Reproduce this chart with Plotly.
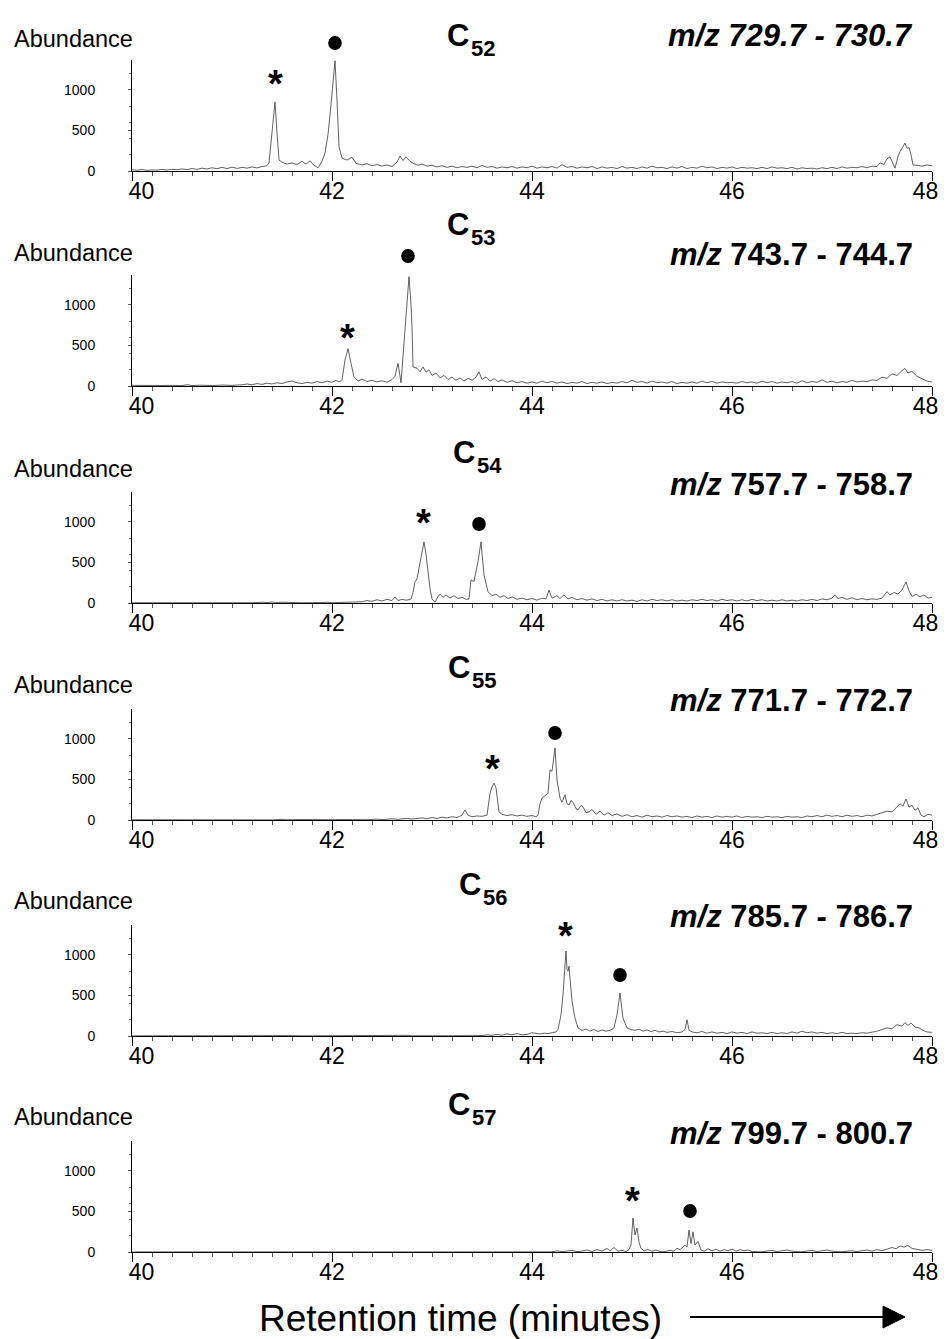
import plotly.graph_objects as go

# ---------------- data (retention time in minutes, abundance) ----------------
c52 = [(40.00,15),(40.05,10),(40.10,18),(40.15,8),(40.20,14),(40.25,10),(40.30,20),(40.35,12),(40.40,22),(40.45,15),
       (40.50,25),(40.55,18),(40.60,30),(40.65,20),(40.70,35),(40.75,25),(40.80,40),(40.85,28),(40.90,45),(40.95,30),
       (41.00,48),(41.05,32),(41.10,45),(41.15,35),(41.20,50),(41.25,38),(41.30,55),(41.35,65),(41.37,100),(41.40,470),
       (41.43,850),(41.45,470),(41.47,135),(41.50,110),(41.55,85),(41.60,100),(41.65,80),(41.70,120),(41.74,85),(41.78,125),
       (41.82,70),(41.86,40),(41.90,120),(41.93,220),(41.96,450),(41.98,690),(42.01,1080),(42.03,1360),(42.05,875),(42.07,300),
       (42.10,160),(42.15,135),(42.20,170),(42.24,95),(42.30,75),(42.35,90),(42.40,65),(42.45,80),(42.50,60),(42.55,75),
       (42.60,55),(42.65,110),(42.68,185),(42.71,130),(42.74,175),(42.78,120),(42.82,90),(42.86,70),(42.90,85),(42.95,60),
       (43.00,70),(43.05,50),(43.10,65),(43.15,45),(43.20,60),(43.25,40),(43.30,55),(43.35,45),(43.40,60),(43.45,40),
       (43.50,70),(43.55,45),(43.60,55),(43.65,35),(43.70,50),(43.75,40),(43.80,55),(43.85,35),(43.90,50),(43.95,40),
       (44.00,60),(44.05,35),(44.10,50),(44.15,40),(44.20,55),(44.25,35),(44.30,80),(44.35,45),(44.40,55),(44.45,35),
       (44.50,50),(44.55,40),(44.60,55),(44.65,30),(44.70,50),(44.75,35),(44.80,45),(44.85,30),(44.90,55),(44.95,35),
       (45.00,45),(45.05,30),(45.10,50),(45.15,35),(45.20,60),(45.25,40),(45.30,45),(45.35,30),(45.40,50),(45.45,35),
       (45.50,55),(45.55,30),(45.60,45),(45.65,35),(45.70,60),(45.75,40),(45.80,50),(45.85,30),(45.90,45),(45.95,35),
       (46.00,50),(46.05,30),(46.10,45),(46.15,35),(46.20,40),(46.25,30),(46.30,45),(46.35,30),(46.40,50),(46.45,35),
       (46.50,40),(46.55,30),(46.60,45),(46.65,25),(46.70,40),(46.75,30),(46.80,35),(46.85,25),(46.90,40),(46.95,30),
       (47.00,45),(47.05,30),(47.10,50),(47.15,35),(47.20,45),(47.25,40),(47.30,55),(47.35,40),(47.40,60),(47.45,55),
       (47.48,100),(47.52,80),(47.55,150),(47.58,175),(47.61,90),(47.63,35),(47.66,180),(47.68,240),(47.71,300),(47.73,345),
       (47.75,280),(47.77,290),(47.79,200),(47.81,75),(47.85,70),(47.90,60),(47.95,75),(48.00,65)]

c53 = [(40.00,8),(40.10,5),(40.20,10),(40.30,6),(40.40,8),(40.50,5),(40.55,15),(40.60,6),(40.70,10),(40.80,5),
       (40.90,12),(41.00,8),(41.10,15),(41.15,25),(41.20,15),(41.25,30),(41.30,20),(41.35,35),(41.40,25),(41.45,40),
       (41.50,30),(41.55,50),(41.60,60),(41.65,40),(41.70,30),(41.75,45),(41.80,35),(41.85,55),(41.90,40),(41.95,60),
       (42.00,45),(42.04,70),(42.07,50),(42.10,75),(42.13,320),(42.16,460),(42.19,280),(42.22,110),(42.26,60),(42.30,85),
       (42.35,55),(42.40,70),(42.45,50),(42.50,65),(42.55,45),(42.60,80),(42.63,120),(42.66,280),(42.69,40),(42.73,730),
       (42.75,1060),(42.77,1350),(42.79,1000),(42.80,730),(42.81,235),(42.85,220),(42.88,175),(42.91,235),(42.94,170),(42.97,200),
       (43.00,130),(43.04,160),(43.08,100),(43.12,130),(43.16,80),(43.20,110),(43.24,70),(43.28,100),(43.32,60),(43.36,95),
       (43.40,70),(43.44,110),(43.47,175),(43.50,80),(43.54,110),(43.58,60),(43.62,90),(43.66,55),(43.70,75),(43.75,45),
       (43.80,65),(43.85,40),(43.90,55),(43.95,35),(44.00,50),(44.05,35),(44.10,60),(44.15,40),(44.20,55),(44.25,35),
       (44.30,50),(44.35,30),(44.40,45),(44.45,35),(44.50,55),(44.55,30),(44.60,45),(44.65,35),(44.70,50),(44.75,30),
       (44.80,45),(44.85,35),(44.90,55),(44.95,40),(45.00,70),(45.05,45),(45.10,55),(45.15,35),(45.20,60),(45.25,40),
       (45.30,50),(45.35,35),(45.40,55),(45.45,30),(45.50,45),(45.55,35),(45.60,50),(45.65,35),(45.70,60),(45.75,40),
       (45.80,55),(45.85,35),(45.90,50),(45.95,40),(46.00,45),(46.05,35),(46.10,55),(46.15,40),(46.20,50),(46.25,35),
       (46.30,60),(46.35,40),(46.40,55),(46.45,35),(46.50,50),(46.55,40),(46.60,55),(46.65,35),(46.70,65),(46.75,40),
       (46.80,55),(46.85,45),(46.90,75),(46.95,45),(47.00,60),(47.05,40),(47.10,55),(47.15,45),(47.20,70),(47.25,50),
       (47.30,60),(47.35,55),(47.40,75),(47.45,70),(47.50,110),(47.55,95),(47.60,150),(47.65,130),(47.70,190),(47.73,215),
       (47.76,160),(47.80,180),(47.85,120),(47.90,90),(47.95,60),(48.00,50)]

c54 = [(40.00,3),(40.20,2),(40.25,8),(40.30,2),(40.50,3),(40.55,8),(40.60,2),(40.80,3),(41.00,2),(41.20,3),
       (41.30,10),(41.35,5),(41.40,12),(41.45,6),(41.50,10),(41.60,5),(41.70,3),(41.90,5),(41.95,10),(42.00,4),
       (42.10,8),(42.15,15),(42.20,10),(42.25,20),(42.30,15),(42.35,30),(42.40,20),(42.45,40),(42.50,25),(42.55,45),
       (42.60,30),(42.63,75),(42.66,30),(42.70,45),(42.74,35),(42.77,40),(42.79,50),(42.81,130),(42.83,260),(42.85,300),
       (42.87,430),(42.90,620),(42.92,755),(42.94,600),(42.96,385),(42.98,180),(43.00,50),(43.03,10),(43.06,80),(43.08,110),
       (43.11,70),(43.14,100),(43.18,60),(43.22,90),(43.26,55),(43.30,70),(43.34,45),(43.37,50),(43.39,285),(43.42,265),
       (43.46,510),(43.49,755),(43.52,345),(43.56,140),(43.60,90),(43.64,110),(43.68,70),(43.72,90),(43.76,55),(43.80,75),
       (43.85,45),(43.90,60),(43.95,40),(44.00,55),(44.05,35),(44.10,60),(44.14,50),(44.17,160),(44.20,60),(44.25,90),
       (44.28,55),(44.32,100),(44.36,50),(44.40,70),(44.45,40),(44.50,55),(44.55,35),(44.60,50),(44.65,30),(44.70,45),
       (44.75,25),(44.80,40),(44.85,25),(44.90,40),(44.95,25),(45.00,35),(45.05,20),(45.10,40),(45.15,25),(45.20,45),
       (45.25,30),(45.30,40),(45.35,25),(45.40,40),(45.45,25),(45.50,35),(45.55,25),(45.60,40),(45.65,30),(45.70,45),
       (45.75,30),(45.80,40),(45.85,25),(45.90,45),(45.95,30),(46.00,40),(46.05,25),(46.10,40),(46.15,25),(46.20,45),
       (46.25,30),(46.30,40),(46.35,25),(46.40,35),(46.45,25),(46.50,40),(46.55,25),(46.60,35),(46.65,25),(46.70,40),
       (46.75,30),(46.80,45),(46.85,30),(46.90,50),(46.95,40),(47.00,60),(47.03,100),(47.06,55),(47.10,70),(47.15,45),
       (47.20,65),(47.25,40),(47.30,55),(47.35,40),(47.40,50),(47.45,45),(47.50,60),(47.55,140),(47.58,100),(47.62,130),
       (47.66,110),(47.70,160),(47.74,260),(47.77,150),(47.80,80),(47.84,110),(47.88,75),(47.92,100),(47.96,60),(48.00,70)]

c55 = [(40.00,3),(40.30,2),(40.40,5),(40.50,2),(40.80,3),(40.90,6),(41.00,2),(41.20,4),(41.40,2),(41.50,8),
       (41.55,3),(41.70,6),(41.80,3),(41.90,8),(42.00,4),(42.10,6),(42.20,3),(42.30,8),(42.35,4),(42.45,10),
       (42.50,5),(42.60,15),(42.65,8),(42.75,20),(42.80,12),(42.90,25),(42.95,15),(43.00,30),(43.05,20),(43.10,35),
       (43.15,25),(43.20,40),(43.25,30),(43.30,60),(43.33,125),(43.36,60),(43.40,40),(43.45,50),(43.50,45),(43.55,60),
       (43.58,330),(43.60,410),(43.62,455),(43.64,395),(43.67,100),(43.70,70),(43.75,55),(43.80,65),(43.85,50),(43.90,60),
       (43.95,45),(44.00,55),(44.04,40),(44.06,60),(44.08,200),(44.10,270),(44.13,300),(44.16,330),(44.18,620),(44.20,600),
       (44.23,890),(44.25,495),(44.28,270),(44.30,220),(44.33,310),(44.35,200),(44.37,185),(44.39,240),(44.41,220),(44.44,140),
       (44.46,125),(44.49,180),(44.51,160),(44.54,90),(44.57,100),(44.60,130),(44.64,70),(44.68,110),(44.72,60),(44.76,90),
       (44.80,55),(44.85,75),(44.90,45),(44.95,65),(45.00,40),(45.05,55),(45.10,35),(45.15,60),(45.20,40),(45.25,50),
       (45.30,35),(45.35,55),(45.40,40),(45.45,50),(45.50,35),(45.55,45),(45.60,30),(45.65,50),(45.70,35),(45.75,45),
       (45.80,30),(45.85,50),(45.90,35),(45.95,45),(46.00,35),(46.05,50),(46.10,30),(46.15,45),(46.20,35),(46.25,40),
       (46.30,30),(46.35,45),(46.40,35),(46.45,40),(46.50,30),(46.55,45),(46.60,35),(46.65,40),(46.70,30),(46.75,50),
       (46.80,40),(46.85,55),(46.90,40),(46.95,60),(47.00,45),(47.05,55),(47.10,40),(47.15,60),(47.20,45),(47.25,55),
       (47.30,40),(47.35,60),(47.40,50),(47.45,70),(47.50,90),(47.55,110),(47.60,100),(47.64,150),(47.68,200),(47.71,170),
       (47.74,260),(47.77,160),(47.80,180),(47.83,120),(47.86,150),(47.89,60),(47.92,40),(47.96,70),(48.00,60)]

c56 = [(40.00,2),(40.30,4),(40.40,2),(40.60,5),(40.70,2),(41.00,4),(41.10,2),(41.20,6),(41.30,2),(41.60,5),
       (41.70,2),(41.90,4),(42.00,2),(42.30,3),(42.40,6),(42.50,2),(42.70,4),(42.75,8),(42.80,3),(43.00,5),
       (43.05,10),(43.10,3),(43.50,5),(43.55,15),(43.60,8),(43.65,20),(43.70,10),(43.75,25),(43.80,15),(43.85,30),
       (43.90,15),(43.95,20),(44.00,40),(44.04,30),(44.08,25),(44.12,35),(44.16,30),(44.20,40),(44.24,50),(44.26,80),
       (44.29,260),(44.31,510),(44.33,800),(44.34,1050),(44.35,820),(44.36,800),(44.37,860),(44.39,600),(44.40,430),(44.43,220),
       (44.46,100),(44.50,70),(44.54,85),(44.58,60),(44.62,80),(44.66,55),(44.70,75),(44.74,60),(44.78,70),(44.82,100),
       (44.85,260),(44.88,530),(44.91,220),(44.95,100),(44.99,80),(45.03,70),(45.07,85),(45.11,60),(45.15,75),(45.19,55),
       (45.23,70),(45.27,50),(45.31,60),(45.35,45),(45.40,55),(45.45,40),(45.50,50),(45.53,80),(45.55,200),(45.57,70),
       (45.60,50),(45.65,40),(45.70,55),(45.75,35),(45.80,50),(45.85,35),(45.90,45),(45.95,30),(46.00,50),(46.05,35),
       (46.10,45),(46.15,30),(46.20,50),(46.25,35),(46.30,40),(46.35,30),(46.40,45),(46.45,30),(46.50,40),(46.55,30),
       (46.60,50),(46.65,35),(46.70,60),(46.75,40),(46.80,50),(46.85,35),(46.90,45),(46.95,30),(47.00,40),(47.05,30),
       (47.10,45),(47.15,30),(47.20,35),(47.25,30),(47.30,40),(47.35,35),(47.40,45),(47.45,60),(47.50,80),(47.55,100),
       (47.60,90),(47.65,140),(47.70,120),(47.73,165),(47.76,130),(47.79,160),(47.83,110),(47.87,100),(47.91,70),(47.95,50),
       (48.00,45)]

c57 = [(40.00,1),(40.50,2),(41.00,1),(41.50,2),(42.00,1),(42.50,2),(43.00,1),(43.50,2),(44.00,3),(44.20,2),
       (44.25,15),(44.30,3),(44.40,20),(44.45,5),(44.50,10),(44.55,25),(44.60,5),(44.65,30),(44.70,10),(44.75,45),
       (44.78,15),(44.82,55),(44.86,10),(44.90,20),(44.94,5),(44.97,30),(44.99,85),(45.01,420),(45.03,210),(45.05,295),
       (45.07,120),(45.09,45),(45.12,15),(45.16,30),(45.20,10),(45.24,25),(45.28,5),(45.32,3),(45.38,20),(45.42,10),
       (45.45,45),(45.48,30),(45.51,60),(45.53,85),(45.55,60),(45.57,270),(45.59,105),(45.61,250),(45.63,85),(45.66,130),
       (45.69,25),(45.72,10),(45.76,40),(45.80,15),(45.84,35),(45.88,10),(45.92,30),(45.96,15),(46.00,35),(46.04,10),
       (46.08,30),(46.12,15),(46.16,25),(46.20,5),(46.30,2),(46.40,20),(46.45,5),(46.55,25),(46.60,10),(46.70,3),
       (46.80,20),(46.85,5),(46.95,25),(47.00,10),(47.10,3),(47.20,15),(47.25,5),(47.35,25),(47.40,10),(47.45,30),
       (47.50,15),(47.55,40),(47.60,55),(47.64,40),(47.68,75),(47.72,60),(47.76,80),(47.80,45),(47.85,35),(47.90,20),
       (47.95,30),(48.00,20)]

traces = [c52, c53, c54, c55, c56, c57]
carbon_numbers = ["52", "53", "54", "55", "56", "57"]
mz_labels = ["m/z 729.7 - 730.7", "<i>m/z</i> 743.7 - 744.7", "<i>m/z</i> 757.7 - 758.7",
             "<i>m/z</i> 771.7 - 772.7", "<i>m/z</i> 785.7 - 786.7", "<i>m/z</i> 799.7 - 800.7"]
mz_style = ["italic", "normal", "normal", "normal", "normal", "normal"]
x_tickvals = [40, 42, 44, 46, 48]
x_ticktext = ["\u00a0\u00a0\u00a040", "42", "44", "46", "48\u00a0\u00a0"]
y_tickvals = [0, 500, 1000]
# retention times of the marked peaks (* and ●)
star_times = [41.43, 42.15, 42.91, 43.60, 44.33, 45.00]
dot_times = [42.03, 42.76, 43.47, 44.23, 44.88, 45.58]

# ---------------- layout geometry (target pixels) ----------------
W, H = 949, 1339
PAGE_OFF = 8          # the page body margin shifts the figure by 8 px
X0_PX, X1_PX = 132, 932
BASE_PX = [171, 386, 603, 820, 1036, 1252]
PANEL_H = 111
YMAX = 1370
star_px = [78, 332, 517, 763, 930, 1195]
dot_px = [43, 256, 524, 733, 975, 1211]
abund_px = [39, 253, 469, 685, 901, 1117]
carbon_px = [(445, 35), (445, 224), (451, 452), (446, 668), (457, 884), (446, 1104)]
mz_px = [35, 254, 484, 700, 916, 1133]

FONT = "Liberation Sans, Arial, Helvetica, sans-serif"

def px_x(px):
    return (px - PAGE_OFF) / W

def px_y(py):
    return 1 - (py - PAGE_OFF) / H

fig = go.Figure()
annotations = []
shapes = []
for i, data in enumerate(traces):
    n = i + 1
    xa = "x" if n == 1 else f"x{n}"
    ya = "y" if n == 1 else f"y{n}"
    t = [p[0] for p in data]
    a = [p[1] for p in data]
    fig.add_trace(go.Scatter(x=t, y=a, mode="lines", line=dict(color="#3a3a3a", width=0.8),
                             xaxis=xa, yaxis=ya, showlegend=False, hoverinfo="skip"))

    ydom = [px_y(BASE_PX[i]), px_y(BASE_PX[i] - PANEL_H)]
    fig.layout[f"xaxis{n if n > 1 else ''}"] = dict(
        domain=[px_x(X0_PX), px_x(X1_PX)], anchor=ya, range=[40, 48], automargin=False,
        tickvals=x_tickvals, ticktext=x_ticktext, ticks="outside", ticklen=9, tickwidth=1, tickcolor="black",
        showline=True, linecolor="black", linewidth=1, showgrid=False, zeroline=False,
        tickfont=dict(size=23, color="black", family=FONT), ticklabelstandoff=-10,
        minor=dict(dtick=0.2, ticks="outside", ticklen=4, tickcolor="#555", tickwidth=1, showgrid=False),
        fixedrange=True,
    )
    fig.layout[f"yaxis{n if n > 1 else ''}"] = dict(
        domain=ydom, anchor=xa, range=[0, YMAX], automargin=False,
        tickvals=y_tickvals, ticks="outside", ticklen=3, tickwidth=1, tickcolor="#555",
        showline=True, linecolor="black", linewidth=1, showgrid=False, zeroline=False,
        tickfont=dict(size=14, color="black", family=FONT), ticklabelstandoff=30,
        minor=dict(dtick=200, ticks="outside", ticklen=2, tickcolor="#777", tickwidth=1, showgrid=False),
        fixedrange=True,
    )
    # peak markers: asterisk and filled circle
    annotations.append(dict(text="*", xref=xa, yref="paper", x=star_times[i], y=px_y(star_px[i] + 6),
                            xanchor="center", yanchor="middle", showarrow=False,
                            font=dict(size=38, color="black", family=FONT, weight="bold")))
    shapes.append(dict(type="circle", xref=xa, yref="paper", x0=dot_times[i] - 0.068, x1=dot_times[i] + 0.068,
                       y0=px_y(dot_px[i] + 7), y1=px_y(dot_px[i] - 7),
                       fillcolor="black", line=dict(color="black", width=0)))

    annotations.append(dict(text="Abundance", xref="paper", yref="paper", x=px_x(12), y=px_y(abund_px[i]),
                            xanchor="left", yanchor="middle", showarrow=False,
                            font=dict(size=23.5, color="black", family=FONT)))
    cx, cy = carbon_px[i]
    annotations.append(dict(text="C", xref="paper", yref="paper",
                            x=px_x(cx), y=px_y(cy), xanchor="left", yanchor="middle", showarrow=False,
                            font=dict(size=31, color="black", family=FONT, weight="bold")))
    annotations.append(dict(text=carbon_numbers[i], xref="paper", yref="paper",
                            x=px_x(cx + 24), y=px_y(cy + 13), xanchor="left", yanchor="middle", showarrow=False,
                            font=dict(size=22, color="black", family=FONT, weight="bold")))
    annotations.append(dict(text=mz_labels[i], xref="paper", yref="paper", x=px_x(915), y=px_y(mz_px[i]),
                            xanchor="right", yanchor="middle", showarrow=False,
                            font=dict(size=31, color="black", family=FONT, weight="bold", style=mz_style[i])))

annotations.append(dict(text="Retention time (minutes)", xref="paper", yref="paper",
                        x=px_x(460), y=px_y(1318), xanchor="center", yanchor="middle", showarrow=False,
                        font=dict(size=37, color="black", family=FONT)))

shapes += [
    dict(type="line", xref="paper", yref="paper", x0=px_x(690), x1=px_x(886), y0=px_y(1317), y1=px_y(1317),
         line=dict(color="black", width=2)),
    dict(type="path", xref="paper", yref="paper",
         path=f"M {px_x(883)},{px_y(1306)} L {px_x(905)},{px_y(1317)} L {px_x(883)},{px_y(1328)} Z",
         fillcolor="black", line=dict(color="black", width=1)),
]

fig.update_layout(width=W, height=H, margin=dict(l=0, r=0, t=0, b=0),
                  paper_bgcolor="white", plot_bgcolor="white",
                  annotations=annotations, shapes=shapes, showlegend=False,
                  font=dict(family=FONT, color="black"))

fig.write_html("out.html")
